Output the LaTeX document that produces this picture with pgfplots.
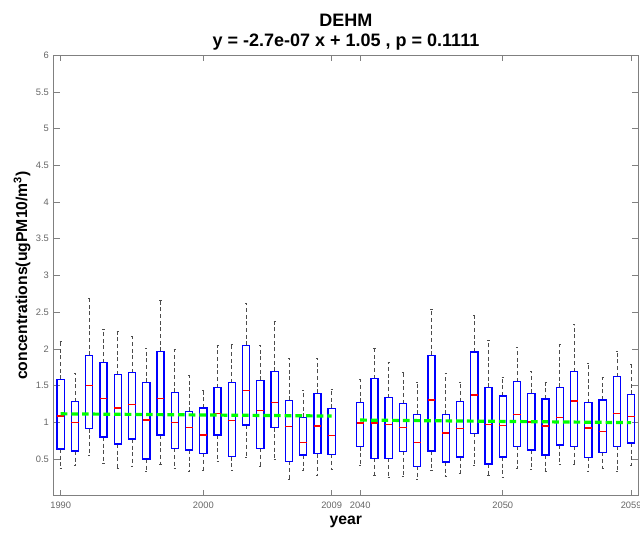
\documentclass[border=0pt]{standalone}
\usepackage{pgfplots}
\pgfplotsset{compat=1.18}
\usepgfplotslibrary{statistics}
\usepackage{fontspec}
\setmainfont{Liberation Sans}
\definecolor{boxblue}{rgb}{0,0,1}
\definecolor{medred}{rgb}{1,0,0}
\definecolor{axgray}{rgb}{0.5,0.5,0.5}
\definecolor{lblgray}{rgb}{0.4,0.4,0.4}
\definecolor{whgray}{rgb}{0.3,0.3,0.3}
\pgfplotsset{
  mybox/.style={draw=boxblue, line width=1pt, solid,
    boxplot/every box/.style={draw=boxblue, line width=1pt, solid},
    boxplot/every median/.style={draw=medred, line width=1pt, solid},
    boxplot/every whisker/.style={draw=whgray, dash pattern=on 3pt off 2pt, line width=0.55pt},
  },
}
\newcommand{\bx}[6]{\addplot[mybox, boxplot prepared={draw direction=y, draw position=#1, lower whisker=#2, lower quartile=#3, median=#4, upper quartile=#5, upper whisker=#6}] coordinates {};}
\begin{document}
\begin{tikzpicture}
\begin{axis}[
  scale only axis, width=438.5pt, height=330.3pt,
  xmin=0.5, xmax=41.5, ymin=0, ymax=6,
  xtick={1,11,20,22,32,41}, xticklabels={1990,2000,2009,2040,2050,2059},
  ytick={0.5,1,1.5,2,2.5,3,3.5,4,4.5,5,5.5,6},
  yticklabels={0.5,1,1.5,2,2.5,3,3.5,4,4.5,5,5.5,6},
  tick align=inside, major tick length=4.5pt,
  tick style={axgray, line width=0.5pt},
  axis line style={axgray, line width=0.6pt},
  ticklabel style={font=\fontsize{7}{8}\selectfont, text=lblgray},
  xticklabel style={yshift=-1.5pt},
  xlabel={year},
  ylabel={concentrations(ugPM10/m\textsuperscript{3})},
  label style={font=\bfseries\fontsize{11.8}{14}\selectfont},
  xlabel style={at={(axis description cs:0.5,0)}, anchor=center, yshift=-19.5pt},
  ylabel style={at={(axis description cs:-0.054,0.5)}, anchor=center},
  title={DEHM\\y = -2.7e-07 x + 1.05 , p = 0.1111},
  title style={align=center, font=\bfseries\fontsize{13.5}{15}\selectfont, at={(axis description cs:0.5,1)}, anchor=center, yshift=11.5pt},
  boxplot/draw direction=y,
  boxplot/box extend=0.5,
  boxplot/whisker extend=0.15,
]
\bx{1}{0.373}{0.636}{1.086}{1.586}{2.10}
\bx{2}{0.418}{0.609}{0.995}{1.282}{1.668}
\bx{3}{0.545}{0.914}{1.505}{1.914}{2.686}
\bx{4}{0.445}{0.80}{1.323}{1.814}{2.259}
\bx{5}{0.377}{0.705}{1.195}{1.65}{2.241}
\bx{6}{0.405}{0.773}{1.245}{1.677}{2.164}
\bx{7}{0.327}{0.50}{1.032}{1.545}{2.005}
\bx{8}{0.427}{0.827}{1.323}{1.968}{2.659}
\bx{9}{0.377}{0.645}{0.995}{1.409}{1.991}
\bx{10}{0.327}{0.623}{0.932}{1.15}{1.636}
\bx{11}{0.35}{0.577}{0.827}{1.195}{1.436}
\bx{12}{0.468}{0.827}{1.118}{1.473}{2.041}
\bx{13}{0.35}{0.532}{1.023}{1.541}{2.068}
\bx{14}{0.523}{0.964}{1.436}{2.05}{2.623}
\bx{15}{0.405}{0.645}{1.164}{1.573}{2.045}
\bx{16}{0.50}{0.927}{1.268}{1.695}{2.377}
\bx{17}{0.218}{0.468}{0.941}{1.30}{1.868}
\bx{18}{0.341}{0.555}{0.723}{1.068}{1.436}
\bx{19}{0.273}{0.573}{0.95}{1.395}{1.868}
\bx{20}{0.355}{0.564}{0.823}{1.191}{1.445}
\bx{22}{0.414}{0.668}{0.99}{1.273}{1.586}
\bx{23}{0.282}{0.509}{0.99}{1.595}{2.00}
\bx{24}{0.255}{0.509}{0.968}{1.336}{1.818}
\bx{25}{0.268}{0.605}{0.927}{1.255}{1.686}
\bx{26}{0.223}{0.40}{0.723}{1.109}{1.545}
\bx{27}{0.35}{0.609}{1.305}{1.914}{2.532}
\bx{28}{0.259}{0.459}{0.855}{1.109}{1.668}
\bx{29}{0.305}{0.527}{0.914}{1.282}{1.545}
\bx{30}{0.414}{0.85}{1.373}{1.959}{2.459}
\bx{31}{0.273}{0.432}{0.968}{1.477}{2.109}
\bx{32}{0.25}{0.527}{0.955}{1.359}{1.618}
\bx{33}{0.373}{0.673}{1.109}{1.555}{2.027}
\bx{34}{0.364}{0.623}{1.005}{1.395}{1.70}
\bx{35}{0.332}{0.555}{0.95}{1.318}{1.541}
\bx{36}{0.427}{0.691}{1.068}{1.477}{2.055}
\bx{37}{0.427}{0.673}{1.291}{1.691}{2.327}
\bx{38}{0.327}{0.523}{0.923}{1.268}{1.805}
\bx{39}{0.377}{0.591}{0.873}{1.305}{1.618}
\bx{40}{0.336}{0.673}{1.123}{1.623}{1.964}
\bx{41}{0.409}{0.718}{1.077}{1.382}{1.786}
\addplot[green, line width=2.4pt, dash pattern=on 5pt off 3pt] coordinates {(1,1.115) (20,1.085)};
\addplot[green, line width=2.4pt, dash pattern=on 5pt off 3pt] coordinates {(22,1.03) (41,0.995)};
\end{axis}
\pgfresetboundingbox
\path[use as bounding box] (-40.2pt,-29.5pt) rectangle (439.8pt,371.75pt);
\end{tikzpicture}
\end{document}
